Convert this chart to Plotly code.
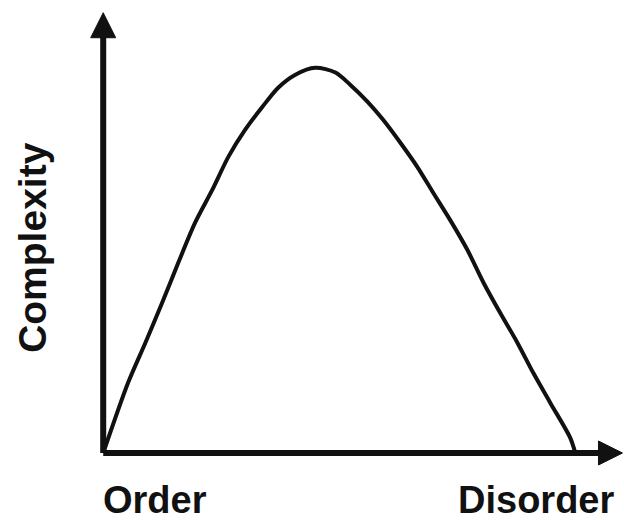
import plotly.graph_objects as go

# curve (x = order -> disorder, y = complexity, both 0..100)
order_level = [0, 4.9, 8.3, 11.6, 14.8, 18.1, 21.5, 24.7, 28.0, 31.4, 34.5, 37.9, 41.8,
               45.8, 48.7, 52.1, 55.2, 58.6, 61.9, 65.1, 68.4, 71.8, 75.0, 78.3, 81.7,
               84.8, 88.2, 92.1, 93.1]
complexity = [0, 16.2, 25.4, 34.6, 43.9, 53.1, 60.7, 68.4, 74.6, 79.9, 84.3, 87.3, 88.9,
              87.8, 85.0, 81.1, 76.9, 71.6, 66.1, 60.0, 53.8, 46.9, 39.3, 32.3, 25.4,
              18.5, 11.5, 3.5, 0]

x_label_left = "Order"
x_label_right = "Disorder"
y_label = "Complexity"

# where the axis arrows end (data units)
x_tip = 102.4
y_tip = 101.6

ink = "#111111"
font_family = "Liberation Sans, Arial, sans-serif"

fig = go.Figure()

# axes drawn as lines, with arrow heads on the ends
fig.add_trace(go.Scatter(x=[0, x_tip - 2], y=[0, 0], mode="lines",
                         line=dict(color=ink, width=6), hoverinfo="skip"))
fig.add_trace(go.Scatter(x=[0, 0], y=[0, y_tip - 2], mode="lines",
                         line=dict(color=ink, width=6), hoverinfo="skip"))
fig.add_trace(go.Scatter(x=[x_tip], y=[0], mode="markers",
                         marker=dict(symbol="arrow-right", size=24, color=ink,
                                     line=dict(width=1, color=ink)),
                         hoverinfo="skip"))
fig.add_trace(go.Scatter(x=[0], y=[y_tip], mode="markers",
                         marker=dict(symbol="arrow-up", size=25, color=ink,
                                     line=dict(width=1, color=ink)),
                         hoverinfo="skip"))

# the complexity curve
fig.add_trace(go.Scatter(x=order_level, y=complexity, mode="lines",
                         line=dict(color=ink, width=4, shape="spline", smoothing=0.8),
                         hoverinfo="skip"))

label_font = dict(family=font_family, size=38, color=ink)

fig.add_annotation(text=f"<b>{x_label_left}</b>", xref="paper", yref="paper",
                   x=0.024, y=-0.074, xanchor="left", yanchor="middle",
                   showarrow=False, font=label_font)
fig.add_annotation(text=f"<b>{x_label_right}</b>", xref="paper", yref="paper",
                   x=0.985, y=-0.074, xanchor="right", yanchor="middle",
                   showarrow=False, font=label_font)
fig.add_annotation(text=f"<b>{y_label}</b>", xref="paper", yref="paper",
                   x=-0.105, y=0.481, xanchor="center", yanchor="middle",
                   textangle=-90, showarrow=False, font=dict(label_font, size=39))

fig.update_xaxes(range=[-3, 102.7], visible=False)
fig.update_yaxes(range=[-3, 102], visible=False)

fig.update_layout(
    width=624,
    height=520,
    margin=dict(l=88, r=0, t=11, b=54),
    showlegend=False,
    plot_bgcolor="white",
    paper_bgcolor="white",
)

# the page body has a default 8px margin; drop it so the figure sits at 0,0
fig.write_html("out.html", config={"displayModeBar": False},
               post_script="document.body.style.margin='0';")
